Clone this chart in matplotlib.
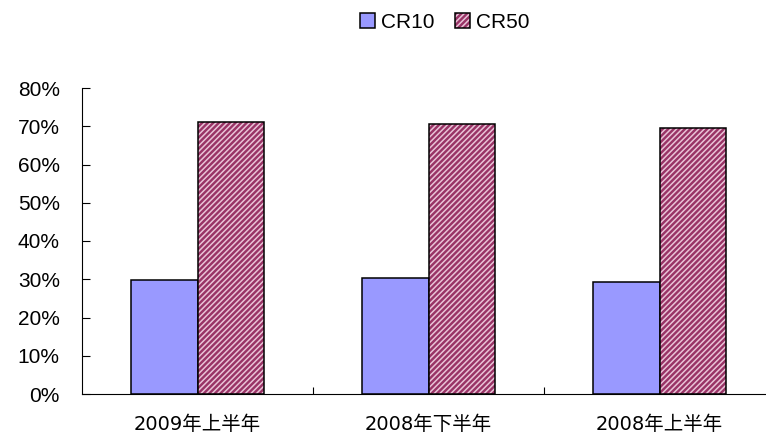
import matplotlib.pyplot as plt
from matplotlib.patches import Patch
from matplotlib.legend_handler import HandlerTuple
from matplotlib.ticker import FixedLocator, PercentFormatter
import numpy as np

categories = ['2009年上半年', '2008年下半年', '2008年上半年']
cr10 = [29.8, 30.3, 29.3]
cr50 = [71.1, 70.6, 69.5]
yticks = [0, 10, 20, 30, 40, 50, 60, 70, 80]

plt.rcParams['font.family'] = ['Liberation Sans', 'Noto Sans CJK SC', 'DejaVu Sans']
plt.rcParams['hatch.linewidth'] = 1.1

fig = plt.figure(figsize=(7.66, 4.34), dpi=100)
ax = fig.add_axes([82 / 766, 40 / 434, 693 / 766, 306 / 434])

x = np.arange(len(categories))
w = 0.286
stripe = '#E9C3D7'

ax.bar(x - w / 2, cr10, w, color='#9999FF', edgecolor='black', linewidth=1.1, zorder=2)
# hatched fill first, then a plain black outline on top
ax.bar(x + w / 2, cr50, w, color='#993366', edgecolor=stripe, hatch='//////',
       linewidth=0, zorder=2)
ax.bar(x + w / 2, cr50, w, facecolor='none', edgecolor='black', linewidth=1.1, zorder=3)

ax.set_xlim(-0.5, 2.5)
ax.set_ylim(0, 80)
ax.set_yticks(yticks)
ax.yaxis.set_major_formatter(PercentFormatter(decimals=0))
ax.tick_params(axis='y', direction='in', length=6, width=0.8, pad=16, labelsize=15)

ax.xaxis.set_major_locator(FixedLocator([0.5, 1.5]))
ax.xaxis.set_minor_locator(FixedLocator(list(x)))
ax.xaxis.set_major_formatter(plt.NullFormatter())
ax.set_xticks(x, categories, minor=True)
ax.tick_params(axis='x', which='major', direction='in', length=5, width=0.8)
ax.tick_params(axis='x', which='minor', length=0, pad=15, labelsize=14)
for lab in ax.get_xticklabels(minor=True):
    lab.set_family(['DejaVu Sans', 'Noto Sans CJK SC'])

for s in ['top', 'right']:
    ax.spines[s].set_visible(False)
for s in ['left', 'bottom']:
    ax.spines[s].set_linewidth(0.8)

h10 = Patch(facecolor='#9999FF', edgecolor='black', linewidth=1.1)
h50 = (Patch(facecolor='#993366', edgecolor=stripe, hatch='//////', linewidth=0),
       Patch(facecolor='none', edgecolor='black', linewidth=1.1))
fig.legend([h10, h50], ['CR10', 'CR50'], loc='center',
           bbox_to_anchor=(445 / 766, 1 - 22 / 434), ncol=2, frameon=False,
           fontsize=15, handlelength=0.7, handleheight=0.7, handletextpad=0.3,
           columnspacing=1.0,
           handler_map={tuple: HandlerTuple(ndivide=1, pad=0)})

fig.savefig('out.png', dpi=100)
